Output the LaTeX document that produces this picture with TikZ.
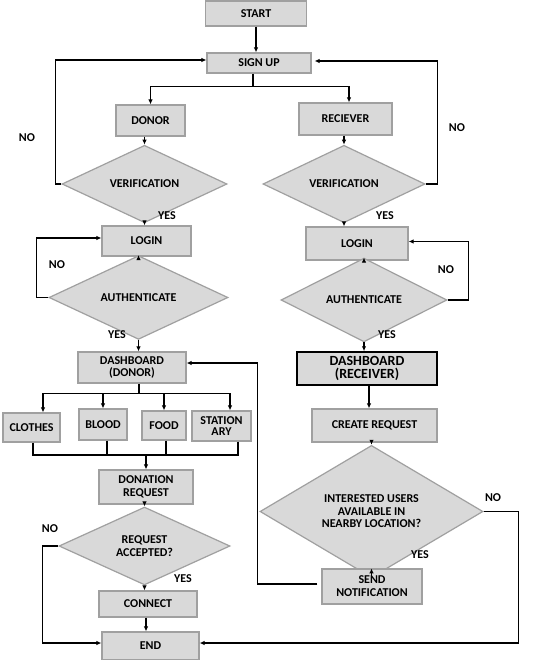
\documentclass[tikz,border=0pt]{standalone}
\usepackage{fontspec}
\setmainfont{Carlito}
\usetikzlibrary{shapes.geometric,arrows.meta}
\definecolor{boxfill}{HTML}{D9D9D9}
\definecolor{boxline}{HTML}{A0A0A0}
\tikzset{
  txt/.style={font=\fontsize{12}{12.5}\selectfont\bfseries},
  box/.style={txt, draw=boxline, fill=boxfill, line width=1.2pt, inner sep=0pt, align=center},
  dia/.style={txt, diamond, draw=boxline, fill=boxfill, line width=1.2pt, inner sep=0pt, align=center},
  arr/.style={line width=1.6pt, -{Latex[length=5pt,width=4.5pt]}},
  ln/.style={line width=1.6pt},
  lbl/.style={txt, inner sep=0pt}
}
\begin{document}
\begin{tikzpicture}[x=1pt,y=-1pt]
\useasboundingbox[fill=white] (0,0) rectangle (532,660);
\node[box, minimum width=101pt, minimum height=25pt] (start) at (256,13.5) {START};
\node[box, minimum width=104pt, minimum height=20pt] (signup) at (259,63) {SIGN UP};
\node[box, minimum width=69pt, minimum height=31pt] (donor) at (150.5,120.5) {DONOR};
\node[box, minimum width=93pt, minimum height=32pt] (reciever) at (345.5,119) {RECIEVER};
\node[dia, minimum width=165pt, minimum height=54pt] (ver1) at (144.5,184) {VERIFICATION};
\node[dia, minimum width=162pt, minimum height=58pt] (ver2) at (344,184) {VERIFICATION};
\node[box, minimum width=89pt, minimum height=30pt] (login1) at (146.5,241) {LOGIN};
\node[box, minimum width=102pt, minimum height=33pt] (login2) at (357,243.5) {LOGIN};
\node[dia, minimum width=179pt, minimum height=45pt] (auth1) at (138.5,297.5) {AUTHENTICATE};
\node[dia, minimum width=166pt, minimum height=38pt] (auth2) at (364,300) {AUTHENTICATE};
\node[box, minimum width=108pt, minimum height=31pt, font=\fontsize{12}{12}\selectfont\bfseries] (dashD) at (132,367.5) {DASHBOARD\\(DONOR)};
\node[box, draw=black, line width=1.5pt, minimum width=140pt, minimum height=33pt,
      font=\fontsize{14}{13.5}\selectfont\bfseries] (dashR) at (367,368.5) {DASHBOARD\\(RECEIVER)};
\node[box, minimum width=57pt, minimum height=29pt] (clothes) at (31.5,427.5) {CLOTHES};
\node[box, minimum width=48pt, minimum height=31pt] (blood) at (103,424.5) {BLOOD};
\node[box, minimum width=44pt, minimum height=29pt] (food) at (164,425.5) {FOOD};
\node[box, minimum width=59pt, minimum height=30pt, font=\fontsize{12}{11.5}\selectfont\bfseries] (station) at (221.5,426) {STATION\\ARY};
\node[box, minimum width=94pt, minimum height=34pt, font=\fontsize{12}{13}\selectfont\bfseries] (donreq) at (146,487) {DONATION\\REQUEST};
\node[dia, minimum width=171pt, minimum height=62pt, font=\fontsize{12}{13}\selectfont\bfseries] (reqacc) at (144.5,546) {REQUEST\\ACCEPTED?};
\node[box, minimum width=98pt, minimum height=26pt] (connect) at (148,604) {CONNECT};
\node[box, minimum width=97pt, minimum height=28pt] (endn) at (150.5,646) {END};
\node[box, minimum width=125pt, minimum height=33pt] (create) at (374.5,425.5) {CREATE REQUEST};
\node[dia, minimum width=223pt, minimum height=91pt] (inter) at (371.5,511.5) {INTERESTED USERS\\AVAILABLE IN\\NEARBY LOCATION?};
\node[box, minimum width=100pt, minimum height=35pt, font=\fontsize{12}{13}\selectfont\bfseries] (send) at (372,586.5) {SEND\\NOTIFICATION};
% labels
\node[lbl] (l1) at (27,138) {NO};
\node[lbl] (l2) at (457,128) {NO};
\node[lbl] (l3) at (167,216) {YES};
\node[lbl] (l4) at (385,216) {YES};
\node[lbl] (l5) at (57,265) {NO};
\node[lbl] (l6) at (446,270) {NO};
\node[lbl] (l7) at (117,335) {YES};
\node[lbl] (l8) at (387,335) {YES};
\node[lbl] (l9) at (50,529) {NO};
\node[lbl] (l10) at (183,579) {YES};
\node[lbl] (l11) at (493,498) {NO};
\node[lbl] (l12) at (420,555) {YES};
% connectors
\draw[arr] (start.south) -- (start.south |- signup.north);
\draw[ln] ([xshift=-6pt]signup.south) -- ++(0,13) coordinate (bus1);
\draw[arr] (bus1) -| (donor.north);
\draw[arr] (bus1) -| ([xshift=3.5pt]reciever.north);
\draw[arr] (donor.south -| ver1.north) -- (ver1.north);
\draw[arr] (reciever.south -| ver2.north) -- (ver2.north);
\draw[arr] (ver1.west) -- ++(-6,0) |- ([yshift=3pt]signup.west);
\draw[arr] (ver2.east) -- ++(12,0) |- ([yshift=2pt,xshift=3pt]signup.east);
\draw[arr] (ver1.south) -- (ver1.south |- login1.north);
\draw[arr] (ver2.south) -- (ver2.south |- login2.north);
\draw[arr] (login1.south -| auth1.north) -- (auth1.north);
\draw[arr] (login2.south -| auth2.north) -- (auth2.north);
\draw[arr] (auth1.west) -- ++(-12,0) |- ([yshift=3pt]login1.west);
\draw[arr] (auth2.east) -- ++(21,0) |- ([yshift=2pt]login2.east);
\draw[arr] (auth1.south) -- (auth1.south |- dashD.north);
\draw[arr] (auth2.south) -- (auth2.south |- dashR.north);
\draw[ln] ([xshift=7pt]dashD.south) -- ++(0,10) coordinate (bus2);
\draw[arr] (bus2) -| ([xshift=11.5pt]clothes.north);
\draw[arr] (bus2) -| (blood.north);
\draw[arr] (bus2) -| (food.north);
\draw[arr] (bus2) -| ([xshift=8.5pt]station.north);
\coordinate (bus3) at (146,455);
\draw[ln] ([xshift=1.5pt]clothes.south) |- (bus3);
\draw[ln] ([xshift=16.5pt]station.south) |- (bus3);
\draw[ln] ([xshift=4pt]blood.south) -- ([xshift=4pt]blood.south |- bus3);
\draw[ln] ([xshift=2pt]food.south) -- ([xshift=2pt]food.south |- bus3);
\draw[arr] (bus3) -- (bus3 |- donreq.north);
\draw[arr] (donreq.south -| reqacc.north) -- (reqacc.north);
\draw[arr] (reqacc.west) -- ++(-16,0) |- ([yshift=3pt]endn.west);
\draw[arr] (reqacc.south) -- (reqacc.south |- connect.north);
\draw[arr] ([xshift=-2pt]connect.south) -- ([xshift=-2pt]connect.south |- endn.north);
\draw[arr] ([xshift=2pt]dashR.south) -- ([xshift=2pt]dashR.south |- create.north);
\draw[arr] (create.south -| inter.north) -- (inter.north);
\draw[arr] (inter.east) -- ++(35,0) |- ([yshift=3pt]endn.east);
\draw[arr] (inter.south) -- (inter.south |- send.north);
\draw[arr] ([xshift=-4pt,yshift=2.5pt]send.west) -- ++(-60,0) |- ([yshift=4.5pt]dashD.east);
\end{tikzpicture}
\end{document}
